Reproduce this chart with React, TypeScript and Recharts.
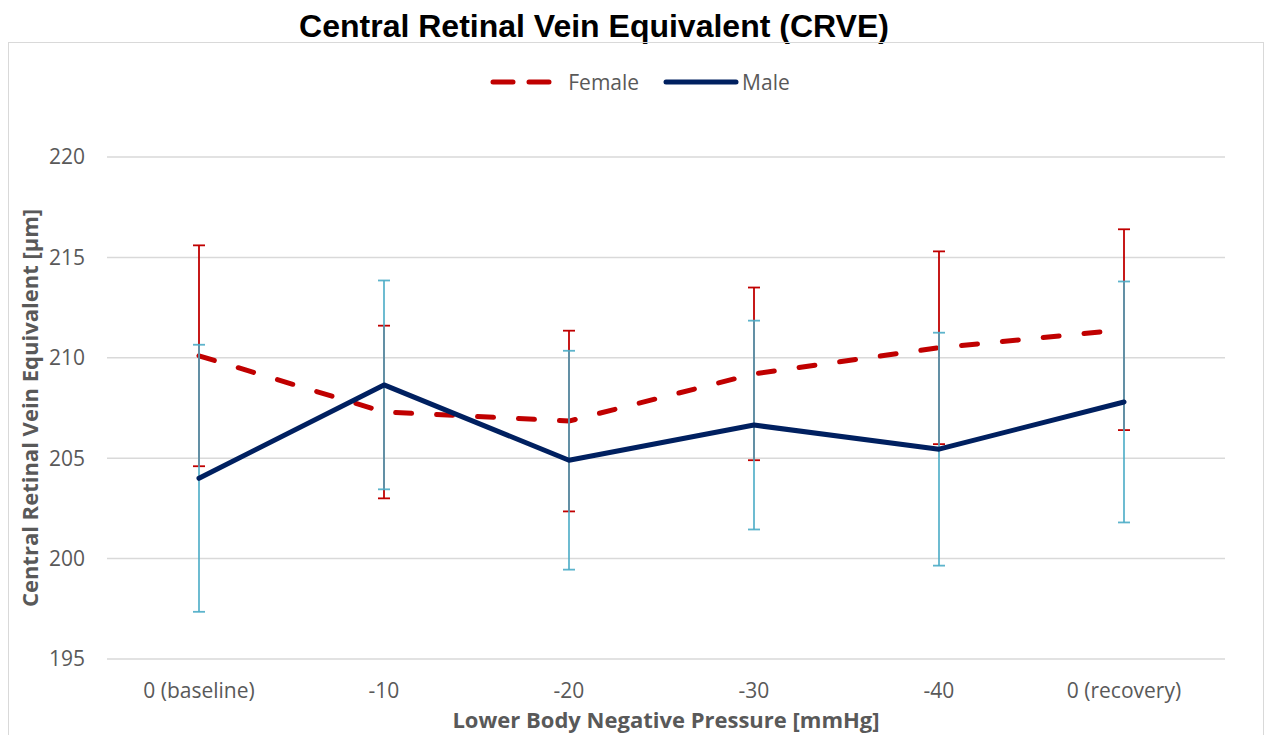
import { CartesianGrid, ErrorBar, Legend, Line, LineChart, XAxis, YAxis } from "recharts";

const categories = ["0 (baseline)", "-10", "-20", "-30", "-40", "0 (recovery)"];
const femaleMean = [210.1, 207.3, 206.85, 209.2, 210.5, 211.4];
const femaleSd = [5.5, 4.3, 4.5, 4.3, 4.8, 5.0];
const maleMean = [204.0, 208.65, 204.9, 206.65, 205.45, 207.8];
const maleSd = [6.65, 5.2, 5.45, 5.2, 5.8, 6.0];
const yTicks = [195, 200, 205, 210, 215, 220];

const data = categories.map((c, i) => ({
  stage: c,
  female: femaleMean[i],
  femaleSd: femaleSd[i],
  male: maleMean[i],
  maleSd: maleSd[i],
}));

const RED = "#C00000";
const NAVY = "#002060";
const ERR_BLUE = "#4BACC6";
const TEXT = "#595959";
const FONT = "'Open Sans', 'Noto Sans', sans-serif";

const axisTick = { fontSize: 21, fill: TEXT, fontFamily: FONT };

function LegendContent() {
  return (
    <div style={{ height: 90, fontFamily: FONT, fontSize: 21, color: TEXT }}>
      <div style={{ display: "flex", justifyContent: "center", alignItems: "center", height: 30, paddingLeft: 10 }}>
        <svg width={66} height={10} style={{ marginRight: 12 }}>
          <line x1={3} y1={5} x2={63} y2={5} stroke={RED} strokeWidth={5} strokeDasharray="20 16" strokeLinecap="round" />
        </svg>
        <span style={{ marginRight: 24 }}>Female</span>
        <svg width={76} height={10} style={{ marginRight: 3 }}>
          <line x1={3} y1={5} x2={73} y2={5} stroke={NAVY} strokeWidth={5} strokeLinecap="round" />
        </svg>
        <span>Male</span>
      </div>
    </div>
  );
}

export default function App() {
  return (
    <div style={{ position: "absolute", left: 0, top: 0, width: 1268, height: 735, background: "#fff", overflow: "hidden" }}>
      <div
        style={{
          position: "absolute",
          left: 0,
          top: 8,
          width: 1188,
          textAlign: "center",
          fontFamily: "'Liberation Sans', Arial, sans-serif",
          fontWeight: "bold",
          fontSize: 32,
          lineHeight: "37px",
          color: "#000",
        }}
      >
        Central Retinal Vein Equivalent (CRVE)
      </div>
      <div
        style={{
          position: "absolute",
          left: 8,
          top: 42,
          width: 1254,
          height: 720,
          border: "1px solid #d9d9d9",
        }}
      >
        <LineChart width={1252} height={693} data={data} margin={{ top: 24, right: 36, bottom: 0, left: 0 }}>
          <CartesianGrid vertical={false} stroke="#d9d9d9" strokeWidth={1.5} />
          <XAxis
            dataKey="stage"
            height={77}
            padding={{ left: 92, right: 101 }}
            axisLine={false}
            tickLine={false}
            tickSize={0}
            tickMargin={24}
            tick={axisTick}
            interval={0}
            label={{
              value: "Lower Body Negative Pressure [mmHg]",
              position: "insideBottom",
              offset: 8,
              style: { fontSize: 22, fontWeight: "bold", fill: TEXT, fontFamily: FONT },
            }}
          />
          <YAxis
            width={98}
            domain={[195, 220]}
            ticks={yTicks}
            axisLine={false}
            tickLine={false}
            tickSize={0}
            tickMargin={22}
            tick={axisTick}
            label={{
              value: "Central Retinal Vein Equivalent [µm]",
              angle: -90,
              position: "insideLeft",
              offset: 21,
              style: { fontSize: 22, fontWeight: "bold", fill: TEXT, fontFamily: FONT, textAnchor: "middle" },
            }}
          />
          <Legend verticalAlign="top" content={<LegendContent />} wrapperStyle={{ left: 0, width: 1252 }} />
          <Line
            dataKey="female"
            stroke={RED}
            strokeWidth={5}
            strokeDasharray="16 25"
            strokeLinecap="round"
            dot={false}
            activeDot={false}
            isAnimationActive={false}
          >
            <ErrorBar dataKey="femaleSd" direction="y" width={6} stroke={RED} strokeWidth={1.8} isAnimationActive={false} />
          </Line>
          <Line
            dataKey="male"
            stroke={NAVY}
            strokeWidth={5}
            strokeLinecap="round"
            strokeLinejoin="round"
            dot={false}
            activeDot={false}
            isAnimationActive={false}
          >
            <ErrorBar dataKey="maleSd" direction="y" width={6} stroke={ERR_BLUE} strokeWidth={1.8} strokeOpacity={0.9} isAnimationActive={false} />
          </Line>
        </LineChart>
      </div>
    </div>
  );
}
